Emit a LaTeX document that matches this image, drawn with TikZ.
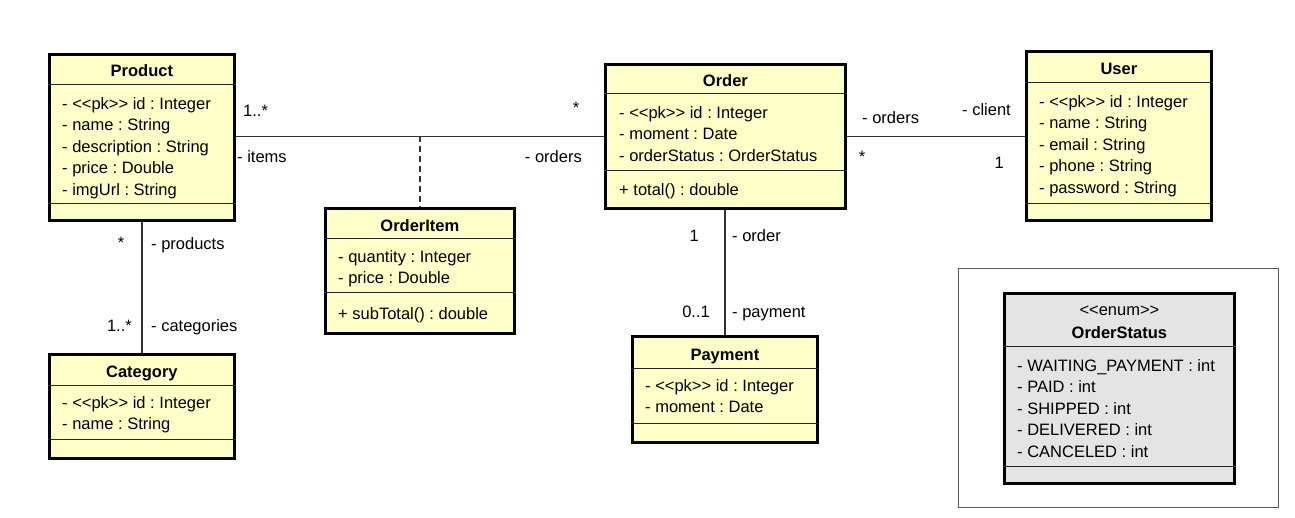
\documentclass[tikz,border=0pt]{standalone}
\usepackage{fontspec}
\setmainfont{Liberation Sans}
\usetikzlibrary{calc, positioning}
\usepackage{xcolor}
\definecolor{classfill}{RGB}{255,255,200}
\definecolor{enumfill}{RGB}{228,228,228}
\newcommand{\umlfont}{\fontsize{16.5pt}{21.5pt}\selectfont}
\newcommand{\stereo}[1]{<\kern0pt<#1>\kern0pt>}
\frenchspacing
\tikzset{
  classbox/.style  = {draw=black, line width=2.8pt, fill=classfill, inner sep=0pt,
                      anchor=north west},
  enumbox/.style   = {classbox, fill=enumfill},
  classname/.style = {font=\umlfont\bfseries, inner sep=0pt, anchor=base},
  members/.style   = {font=\umlfont, align=left, inner sep=0pt, anchor=north west,
                      execute at begin node=\strut},
  split/.style     = {draw=black!85, line width=1pt},
  assoc/.style     = {draw=black!80, line width=1.3pt},
  link/.style      = {assoc, dash pattern=on 6pt off 4pt},
  role/.style      = {font=\umlfont, inner sep=0pt},
  frame/.style     = {draw=black!65, line width=1pt}
}

\begin{document}
\begin{tikzpicture}[x=1pt, y=-1pt, font=\umlfont]
\useasboundingbox (0,0) rectangle (1295,518);

% Product
\node[classbox, minimum width=185pt, minimum height=166pt] (product) at (48,53) {};
\node[classname] (product-name) at ([yshift=-24pt]product.north) {Product};
\draw[split] ([yshift=-32pt]product.north west) -- ([yshift=-32pt]product.north east);
\draw[split] ([yshift=-151pt]product.north west) -- ([yshift=-151pt]product.north east);
\node[members] (product-attrs) at ([xshift=14pt, yshift=-44pt]product.north west)
  {- \stereo{pk} id : Integer\\- name : String\\- description : String\\- price : Double\\- imgUrl : String};

% Category
\node[classbox, minimum width=185pt, minimum height=104pt] (category) at (48,353) {};
\node[classname] (category-name) at ([yshift=-24pt]category.north) {Category};
\draw[split] ([yshift=-32pt]category.north west) -- ([yshift=-32pt]category.north east);
\draw[split] ([yshift=-86pt]category.north west) -- ([yshift=-86pt]category.north east);
\node[members] (category-attrs) at ([xshift=14pt, yshift=-43pt]category.north west)
  {- \stereo{pk} id : Integer\\- name : String};

% OrderItem
\node[classbox, minimum width=189pt, minimum height=125pt] (orderitem) at (324,207) {};
\node[classname] (orderitem-name) at ([yshift=-25pt]orderitem.north) {OrderItem};
\draw[split] ([yshift=-32pt]orderitem.north west) -- ([yshift=-32pt]orderitem.north east);
\draw[split] ([yshift=-86pt]orderitem.north west) -- ([yshift=-86pt]orderitem.north east);
\node[members] (orderitem-attrs) at ([xshift=14pt, yshift=-43pt]orderitem.north west)
  {- quantity : Integer\\- price : Double};
\node[members] (orderitem-ops) at ([xshift=14pt, yshift=-97pt]orderitem.north west)
  {+ subTotal() : double};

% Order
\node[classbox, minimum width=240pt, minimum height=144pt] (order) at (604,63) {};
\node[classname] (order-name) at ([yshift=-24pt]order.north) {Order};
\draw[split] ([yshift=-31pt]order.north west) -- ([yshift=-31pt]order.north east);
\draw[split] ([yshift=-108pt]order.north west) -- ([yshift=-108pt]order.north east);
\node[members] (order-attrs) at ([xshift=15pt, yshift=-43pt]order.north west)
  {- \stereo{pk} id : Integer\\- moment : Date\\- orderStatus : OrderStatus};
\node[members] (order-ops) at ([xshift=15pt, yshift=-117pt]order.north west)
  {+ total() : double};

% Payment
\node[classbox, minimum width=185pt, minimum height=106pt] (payment) at (631,335) {};
\node[classname] (payment-name) at ([yshift=-25pt]payment.north) {Payment};
\draw[split] ([yshift=-33pt]payment.north west) -- ([yshift=-33pt]payment.north east);
\draw[split] ([yshift=-88pt]payment.north west) -- ([yshift=-88pt]payment.north east);
\node[members] (payment-attrs) at ([xshift=14pt, yshift=-44pt]payment.north west)
  {- \stereo{pk} id : Integer\\- moment : Date};

% User
\node[classbox, minimum width=185pt, minimum height=169pt] (user) at (1025,50) {};
\node[classname] (user-name) at ([yshift=-25pt]user.north) {User};
\draw[split] ([yshift=-33pt]user.north west) -- ([yshift=-33pt]user.north east);
\draw[split] ([yshift=-154pt]user.north west) -- ([yshift=-154pt]user.north east);
\node[members] (user-attrs) at ([xshift=14pt, yshift=-45pt]user.north west)
  {- \stereo{pk} id : Integer\\- name : String\\- email : String\\- phone : String\\- password : String};

% OrderStatus enum in its frame
\draw[frame] (958,269) rectangle (1278,507);
\node[enumbox, minimum width=230pt, minimum height=190pt] (status) at (1003,292) {};
\node[role, anchor=base] (status-stereo) at ([yshift=-24pt]status.north) {\stereo{enum}};
\node[classname] (status-name) at ([yshift=-46pt]status.north) {OrderStatus};
\draw[split] ([yshift=-55pt]status.north west) -- ([yshift=-55pt]status.north east);
\draw[split] ([yshift=-174pt]status.north west) -- ([yshift=-174pt]status.north east);
\node[members] (status-attrs) at ([xshift=14pt, yshift=-67pt]status.north west)
  {- WAITING\_PAYMENT : int\\- PAID : int\\- SHIPPED : int\\- DELIVERED : int\\- CANCELED : int};

% associations
\draw[assoc] (order.west -| product.east) -- (order.west);
\coordinate (itemlink) at ($(product.east)!0.5!(order.west)$);
\draw[link] (itemlink |- order.west) -- (orderitem.north);
\draw[assoc] (order.east) -- (order.east -| user.west);
\draw[assoc] (product.south) -- (category.north);
\draw[assoc] (order.south -| payment.north) -- (payment.north);

% roles and multiplicities
\node[role, anchor=base west] (items-mult) at (243,117) {1..*};
\node[role, anchor=base west] (items-role) at (237,163) {- items};
\node[role] (orders-mult) at (576,108) {*};
\node[role, anchor=base east] (orders-role) at (582,163) {- orders};
\node[role, anchor=base west] (client-orders-role) at (862,124) {- orders};
\node[role] (client-orders-mult) at (862,157) {*};
\node[role, anchor=base east] (client-role) at (1011,116) {- client};
\node[role, anchor=base east] (client-mult) at (1004,169) {1};
\node[role] (products-mult) at (121,243) {*};
\node[role, anchor=base west] (products-role) at (151,250) {- products};
\node[role, anchor=base east] (categories-mult) at (132,332) {1..*};
\node[role, anchor=base west] (categories-role) at (151,332) {- categories};
\node[role, anchor=base east] (order-mult) at (699,242) {1};
\node[role, anchor=base west] (order-role) at (732,242) {- order};
\node[role, anchor=base east] (payment-mult) at (710,318) {0..1};
\node[role, anchor=base west] (payment-role) at (732,318) {- payment};
\end{tikzpicture}
\end{document}
